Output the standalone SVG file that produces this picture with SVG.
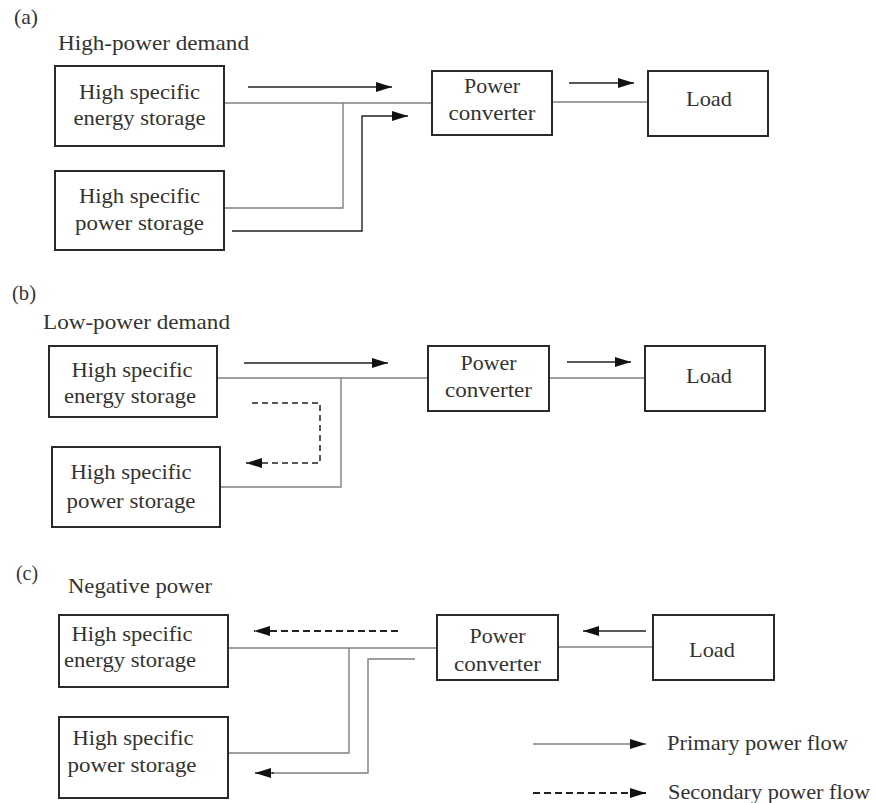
<svg xmlns="http://www.w3.org/2000/svg" width="876" height="803" viewBox="0 0 876 803">
  <defs>
    <style>
      text { font-family: "Liberation Serif", "Times New Roman", serif; font-size: 21px; fill: #333; }
      .box { fill: #fff; stroke: #2a2a2a; stroke-width: 2; }
      .wire { fill: none; stroke: #808080; stroke-width: 1.4; }
      .flow { fill: none; stroke: #222; stroke-width: 1.4; }
      .dash { fill: none; stroke: #222; stroke-width: 1.5; stroke-dasharray: 6 4; }
      .dash2 { fill: none; stroke: #222; stroke-width: 2.2; stroke-dasharray: 7 4; }
    </style>
    <marker id="head" markerUnits="userSpaceOnUse" markerWidth="17" markerHeight="10" refX="16" refY="5" orient="auto">
      <path d="M0,0 L16,5 L0,10 Z" fill="#111"/>
    </marker>
  </defs>

  <!-- panel labels and titles -->
  <g id="titles">
    <text x="14" y="24" textLength="24" lengthAdjust="spacingAndGlyphs">(a)</text>
    <text x="58" y="50" textLength="191" lengthAdjust="spacingAndGlyphs">High-power demand</text>
    <text x="12" y="300" textLength="24" lengthAdjust="spacingAndGlyphs">(b)</text>
    <text x="43" y="329" textLength="187" lengthAdjust="spacingAndGlyphs">Low-power demand</text>
    <text x="16" y="580" textLength="22" lengthAdjust="spacingAndGlyphs">(c)</text>
    <text x="68" y="593" textLength="144" lengthAdjust="spacingAndGlyphs">Negative power</text>
  </g>

  <!-- connectors -->
  <g id="connectors">
    <!-- (a) -->
    <path class="wire" d="M224,103 H432"/>
    <path class="wire" d="M224,208 H343 V103"/>
    <path class="flow" d="M232,231 H362 V116 H408" marker-end="url(#head)"/>
    <path class="flow" d="M248,87 H392" marker-end="url(#head)"/>
    <path class="wire" d="M552,102 H648"/>
    <path class="flow" d="M569,83 H634" marker-end="url(#head)"/>
    <!-- (b) -->
    <path class="wire" d="M217,378 H428"/>
    <path class="wire" d="M220,487 H341 V378"/>
    <path class="flow" d="M244,363 H388" marker-end="url(#head)"/>
    <path class="dash" d="M252,403 H320 V463 H246" marker-end="url(#head)"/>
    <path class="wire" d="M549,378 H645"/>
    <path class="flow" d="M567,362 H631" marker-end="url(#head)"/>
    <!-- (c) -->
    <path class="wire" d="M228,648 H437"/>
    <path class="wire" d="M228,753 H349 V648"/>
    <path class="wire" d="M415,659 H368 V773 H272"/>
    <path class="flow" d="M274,773 H255" marker-end="url(#head)"/>
    <path class="dash2" d="M398,631 H254" marker-end="url(#head)"/>
    <path class="wire" d="M558,647 H653"/>
    <path class="flow" d="M646,631 H583" marker-end="url(#head)"/>
  </g>

  <!-- (a) high-power demand -->
  <g id="a-energy">
    <rect class="box" x="55" y="66" width="169" height="80"/>
    <text x="139.5" y="99" text-anchor="middle" textLength="121" lengthAdjust="spacingAndGlyphs">High specific</text>
    <text x="139.5" y="125" text-anchor="middle" textLength="132" lengthAdjust="spacingAndGlyphs">energy storage</text>
  </g>
  <g id="a-power">
    <rect class="box" x="55" y="171" width="169" height="79"/>
    <text x="139.5" y="203" text-anchor="middle" textLength="121" lengthAdjust="spacingAndGlyphs">High specific</text>
    <text x="139.5" y="230" text-anchor="middle" textLength="129" lengthAdjust="spacingAndGlyphs">power storage</text>
  </g>
  <g id="a-converter">
    <rect class="box" x="432" y="71" width="120" height="64"/>
    <text x="492" y="93" text-anchor="middle" textLength="56" lengthAdjust="spacingAndGlyphs">Power</text>
    <text x="492" y="120" text-anchor="middle" textLength="87" lengthAdjust="spacingAndGlyphs">converter</text>
  </g>
  <g id="a-load">
    <rect class="box" x="648" y="71" width="120" height="65"/>
    <text x="709" y="106" text-anchor="middle" textLength="46" lengthAdjust="spacingAndGlyphs">Load</text>
  </g>

  <!-- (b) low-power demand -->
  <g id="b-energy">
    <rect class="box" x="49" y="346" width="168" height="71"/>
    <text x="132" y="377" text-anchor="middle" textLength="121" lengthAdjust="spacingAndGlyphs">High specific</text>
    <text x="130" y="403" text-anchor="middle" textLength="132" lengthAdjust="spacingAndGlyphs">energy storage</text>
  </g>
  <g id="b-power">
    <rect class="box" x="52" y="447" width="168" height="80"/>
    <text x="131" y="479" text-anchor="middle" textLength="121" lengthAdjust="spacingAndGlyphs">High specific</text>
    <text x="131" y="508" text-anchor="middle" textLength="129" lengthAdjust="spacingAndGlyphs">power storage</text>
  </g>
  <g id="b-converter">
    <rect class="box" x="428" y="346" width="121" height="65"/>
    <text x="488.5" y="370" text-anchor="middle" textLength="56" lengthAdjust="spacingAndGlyphs">Power</text>
    <text x="488.5" y="397" text-anchor="middle" textLength="87" lengthAdjust="spacingAndGlyphs">converter</text>
  </g>
  <g id="b-load">
    <rect class="box" x="645" y="346" width="120" height="65"/>
    <text x="709" y="383" text-anchor="middle" textLength="46" lengthAdjust="spacingAndGlyphs">Load</text>
  </g>

  <!-- (c) negative power -->
  <g id="c-energy">
    <rect class="box" x="59" y="615" width="169" height="72"/>
    <text x="132" y="641" text-anchor="middle" textLength="121" lengthAdjust="spacingAndGlyphs">High specific</text>
    <text x="130" y="667" text-anchor="middle" textLength="132" lengthAdjust="spacingAndGlyphs">energy storage</text>
  </g>
  <g id="c-power">
    <rect class="box" x="59" y="717" width="169" height="81"/>
    <text x="133" y="745" text-anchor="middle" textLength="121" lengthAdjust="spacingAndGlyphs">High specific</text>
    <text x="132" y="772" text-anchor="middle" textLength="129" lengthAdjust="spacingAndGlyphs">power storage</text>
  </g>
  <g id="c-converter">
    <rect class="box" x="437" y="615" width="121" height="65"/>
    <text x="497.5" y="643" text-anchor="middle" textLength="56" lengthAdjust="spacingAndGlyphs">Power</text>
    <text x="497.5" y="671" text-anchor="middle" textLength="87" lengthAdjust="spacingAndGlyphs">converter</text>
  </g>
  <g id="c-load">
    <rect class="box" x="653" y="615" width="121" height="65"/>
    <text x="712" y="657" text-anchor="middle" textLength="46" lengthAdjust="spacingAndGlyphs">Load</text>
  </g>

  <!-- legend -->
  <g id="legend">
    <path class="wire" d="M533,744 H646" marker-end="url(#head)"/>
    <text x="667" y="750" textLength="181" lengthAdjust="spacingAndGlyphs">Primary power flow</text>
    <path class="dash2" d="M533,793 H646" marker-end="url(#head)"/>
    <text x="668" y="799" textLength="202" lengthAdjust="spacingAndGlyphs">Secondary power flow</text>
  </g>
</svg>
